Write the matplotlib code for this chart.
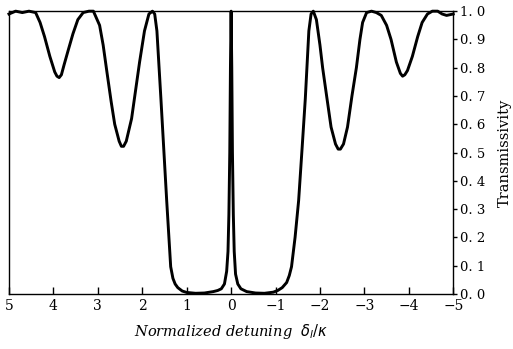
import numpy as np
import matplotlib
matplotlib.use("Agg")
import matplotlib.pyplot as plt

plt.rcParams['font.family'] = ['DejaVu Serif']

# normalized detuning (delta_l / kappa) and transmissivity
detuning = [
    5.0, 4.85, 4.7, 4.55, 4.4, 4.3, 4.2, 4.08, 3.97, 3.92, 3.87, 3.82, 3.76, 3.67, 3.56, 3.45,
    3.33, 3.2, 3.1, 2.96, 2.88, 2.8, 2.7, 2.62, 2.52, 2.47, 2.42, 2.36, 2.24, 2.15, 2.06,
    1.95, 1.85, 1.77, 1.72, 1.67, 1.58, 1.45, 1.36, 1.31, 1.26, 1.2, 1.1, 1.0, 0.8,
    0.6, 0.4, 0.3, 0.22, 0.15, 0.1, 0.07, 0.05, 0.03, 0.015, 0.0,
    -0.015, -0.03, -0.05, -0.07, -0.1, -0.15, -0.22, -0.35, -0.55, -0.75, -0.95,
    -1.05, -1.15, -1.25, -1.31, -1.36, -1.44, -1.52, -1.6, -1.67, -1.75, -1.8,
    -1.85, -1.92, -2.0, -2.06, -2.15, -2.25, -2.35, -2.41, -2.46, -2.53, -2.62, -2.72,
    -2.82, -2.9, -2.96, -3.05, -3.16, -3.27, -3.38, -3.5, -3.6, -3.72, -3.81, -3.86,
    -3.91, -3.97, -4.08, -4.2, -4.3, -4.42, -4.53, -4.65, -4.75, -4.85, -5.0,
]
transmissivity = [
    0.99, 1.0, 0.995, 1.0, 0.995, 0.96, 0.91, 0.84, 0.785, 0.77, 0.765, 0.775, 0.81, 0.86, 0.92, 0.97,
    0.995, 1.0, 1.0, 0.95, 0.88, 0.79, 0.68, 0.6, 0.54, 0.522, 0.522, 0.54, 0.62, 0.72, 0.82,
    0.93, 0.99, 1.0, 0.99, 0.93, 0.69, 0.33, 0.096, 0.055, 0.035, 0.022, 0.01, 0.005, 0.002,
    0.003, 0.008, 0.012, 0.018, 0.035, 0.08, 0.15, 0.28, 0.5, 0.8, 1.0,
    0.8, 0.5, 0.28, 0.15, 0.07, 0.035, 0.018, 0.008, 0.003, 0.002, 0.006,
    0.012, 0.022, 0.04, 0.065, 0.096, 0.2, 0.33, 0.52, 0.69, 0.93, 0.99,
    1.0, 0.97, 0.88, 0.8, 0.7, 0.59, 0.53, 0.512, 0.512, 0.53, 0.59, 0.7,
    0.8, 0.9, 0.96, 0.995, 1.0, 0.995, 0.985, 0.95, 0.9, 0.82, 0.78, 0.77,
    0.775, 0.79, 0.84, 0.91, 0.96, 0.99, 1.0, 1.0, 0.99, 0.985, 0.99,
]

x_ticks = [5, 4, 3, 2, 1, 0, -1, -2, -3, -4, -5]
x_tick_labels = ['5', '4', '3', '2', '1', '0', '\u22121', '\u22122', '\u22123', '\u22124', '\u22125']
y_ticks = [0.0, 0.1, 0.2, 0.3, 0.4, 0.5, 0.6, 0.7, 0.8, 0.9, 1.0]
y_tick_labels = ['0. %d' % i for i in range(10)] + ['1. 0']

fig = plt.figure(figsize=(5.13, 3.49), dpi=100)
ax = fig.add_axes([0.0175, 0.158, 0.866, 0.81])

ax.plot(detuning, transmissivity, color='black', linewidth=2.1, clip_on=False,
        solid_joinstyle='round')

ax.set_xlim(5, -5)
ax.set_ylim(0, 1.0)

ax.yaxis.tick_right()
ax.yaxis.set_label_position('right')
ax.set_xticks(x_ticks)
ax.set_xticklabels(x_tick_labels)
ax.set_yticks(y_ticks)
ax.set_yticklabels(y_tick_labels)
ax.tick_params(axis='x', direction='in', length=5, width=1, labelsize=10, pad=4)
ax.tick_params(axis='y', direction='out', length=3, width=1, labelsize=9.5, pad=2)

for s in ax.spines.values():
    s.set_linewidth(1.0)

ax.set_xlabel(r'Normalized detuning  $\delta_l/\kappa$', fontsize=10.5,
              style='italic', labelpad=6)
ax.set_ylabel('Transmissivity', fontsize=10.5, labelpad=9)

fig.savefig('out.png', dpi=100)
